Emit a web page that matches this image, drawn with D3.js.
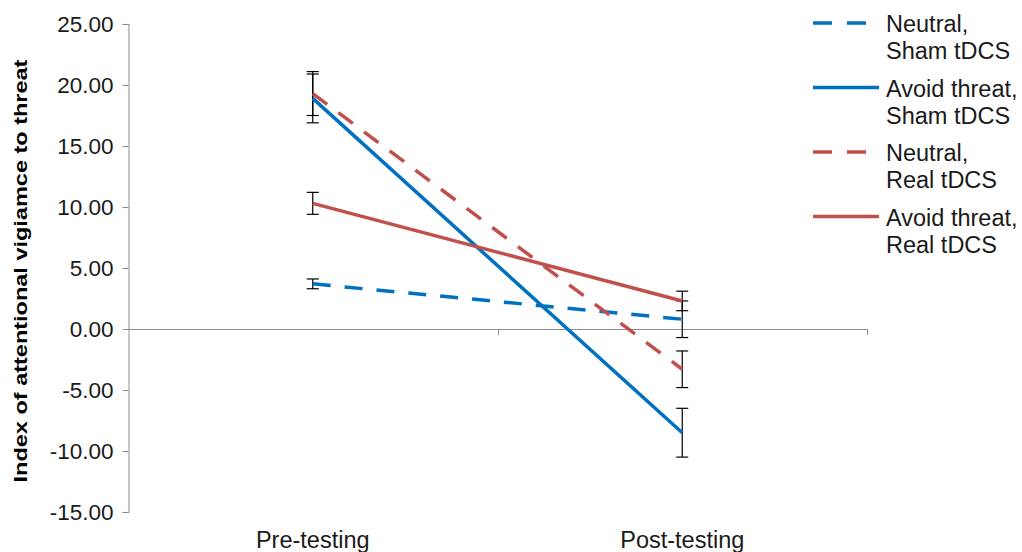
<!DOCTYPE html>
<html>
<head>
<meta charset="utf-8">
<script src="https://cdn.jsdelivr.net/npm/d3@7"></script>
<style>
	body { margin: 0; background: #fff; }
	svg { font-family: Arial, "Liberation Sans", sans-serif; }
</style>
</head>
<body>
<svg id="chart" width="1022" height="552"></svg>
<script>
// values
const categories = ["Pre-testing", "Post-testing"];
const seriesNames = [
	["Neutral,", "Sham tDCS"],
	["Avoid threat,", "Sham tDCS"],
	["Neutral,", "Real tDCS"],
	["Avoid threat,", "Real tDCS"],
];
const seriesColors = ["#0070C0", "#0070C0", "#C0504D", "#C0504D"];
const seriesDashed = [true, false, true, false];
const neutralSham = [3.7, 0.8];
const avoidSham = [18.9, -8.5];
const neutralReal = [19.3, -3.3];
const avoidReal = [10.3, 2.3];
const neutralShamErr = [0.4, 1.5];
const avoidShamErr = [2.0, 2.0];
const neutralRealErr = [1.8, 1.5];
const avoidRealErr = [0.9, 0.8];
const yTicks = [25, 20, 15, 10, 5, 0, -5, -10, -15];

const series = [
	{ values: neutralSham, err: neutralShamErr },
	{ values: avoidSham, err: avoidShamErr },
	{ values: neutralReal, err: neutralRealErr },
	{ values: avoidReal, err: avoidRealErr },
].map((s, i) => ({
	...s,
	name: seriesNames[i],
	color: seriesColors[i],
	dashed: seriesDashed[i],
}));

const svg = d3.select("#chart");
const plot = { left: 128, right: 867, top: 24, bottom: 512 };

const x = d3.scaleBand().domain(categories).range([plot.left, plot.right]);
const y = d3.scaleLinear().domain([-15, 25]).range([plot.bottom, plot.top]);
const axisColor = "#8c8c8c";
const textColor = "#1a1a1a";

// y axis
const yAxis = svg.append("g")
	.attr("transform", `translate(${plot.left + 0.5},0)`)
	.call(d3.axisLeft(y).tickValues(yTicks).tickFormat((d) => d3.format(".2f")(d).replace("−", "-")).tickSize(6).tickPadding(9));
yAxis.select(".domain").attr("stroke", axisColor).attr("stroke-width", 1);
yAxis.selectAll(".tick line").attr("stroke", axisColor);
yAxis.selectAll(".tick text")
	.attr("fill", textColor)
	.style("font-size", "22.5px");

// x axis at zero
svg.append("line")
	.attr("x1", plot.left)
	.attr("x2", plot.right)
	.attr("y1", y(0) + 0.5)
	.attr("y2", y(0) + 0.5)
	.attr("stroke", axisColor);
// category boundary ticks
svg.append("g")
	.selectAll("line")
	.data(categories)
	.enter()
	.append("line")
	.attr("x1", (d) => Math.round(x(d) + x.bandwidth()) + 0.5)
	.attr("x2", (d) => Math.round(x(d) + x.bandwidth()) + 0.5)
	.attr("y1", y(0))
	.attr("y2", y(0) + 6)
	.attr("stroke", axisColor);

// category labels below plot
svg.append("g")
	.selectAll("text")
	.data(categories)
	.enter()
	.append("text")
	.attr("x", (d) => x(d) + x.bandwidth() / 2)
	.attr("y", 548)
	.attr("text-anchor", "middle")
	.attr("fill", textColor)
	.style("font-size", "23.5px")
	.text((d) => d);

// y title
svg.append("text")
	.attr("transform", `translate(27,${(plot.top + plot.bottom) / 2 + 3}) rotate(-90) scale(1,0.78)`)
	.attr("text-anchor", "middle")
	.style("font-size", "23.5px")
	.style("font-weight", "bold")
	.attr("fill", "#000")
	.text("Index of attentional vigiamce to threat");

const cx = (i) => x(categories[i]) + x.bandwidth() / 2;

// error bars
const errG = svg.append("g");
series.forEach((s) => {
	s.values.forEach((v, i) => {
		const px = cx(i);
		const hi = y(v + s.err[i]), lo = y(v - s.err[i]);
		errG.append("line").attr("x1", px).attr("x2", px).attr("y1", hi).attr("y2", lo)
			.attr("stroke", "#000").attr("stroke-width", 1.2);
		[hi, lo].forEach((yy) => {
			errG.append("line").attr("x1", px - 6).attr("x2", px + 6).attr("y1", yy).attr("y2", yy)
				.attr("stroke", "#000").attr("stroke-width", 1.2);
		});
	});
});

// lines
const line = d3.line().x((d, i) => cx(i)).y((d) => y(d));
svg.append("g")
	.selectAll("path")
	.data(series)
	.enter()
	.append("path")
	.attr("d", (d) => line(d.values))
	.attr("fill", "none")
	.attr("stroke", (d) => d.color)
	.attr("stroke-width", 3.5)
	.attr("stroke-dasharray", (d) => (d.dashed ? "18,14" : null));

// legend
const legend = svg.append("g")
	.selectAll("g")
	.data(series)
	.enter()
	.append("g")
	.attr("transform", (d, i) => `translate(813,${23 + i * 64.5})`);
legend.append("line")
	.attr("x1", 0).attr("x2", 66).attr("y1", 0).attr("y2", 0)
	.attr("stroke", (d) => d.color)
	.attr("stroke-width", 3.5)
	.attr("stroke-dasharray", (d) => (d.dashed ? "19,15" : null));
legend.append("text")
	.attr("fill", textColor)
	.style("font-size", "23.5px")
	.selectAll("tspan")
	.data((d) => d.name)
	.enter()
	.append("tspan")
	.attr("x", 73)
	.attr("y", (d, i) => 9 + i * 27)
	.text((d) => d);
</script>
</body>
</html>
